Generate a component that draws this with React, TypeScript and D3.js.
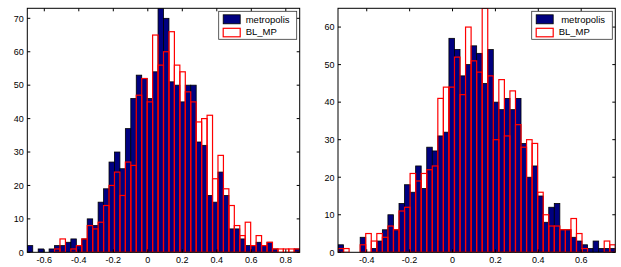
import React, { useEffect, useRef } from "react";
import * as d3 from "d3";

// counts per bin (50 equal bins spanning each panel's x range)
const leftMetropolis = [2, 0, 1, 0, 1, 2, 2, 3, 4, 2, 4, 10, 8, 15, 19, 27, 30, 25, 37, 46, 53, 52, 46, 54, 73, 70, 51, 50, 45, 50, 50, 33, 32, 17, 15, 24, 17, 7, 7, 4, 2, 2, 3, 2, 3, 1, 0, 0, 0, 1];
const leftBLMP = [0, 0, 0, 0, 0, 1, 4, 0, 1, 2, 4, 8, 7, 9, 14, 20, 24, 17, 27, 26, 47, 52, 45, 65, 56, 60, 66, 56, 54, 48, 45, 39, 40, 41, 22, 29, 19, 14, 8, 5, 9, 2, 5, 2, 3, 1, 1, 1, 1, 1];
const leftRange: [number, number] = [-0.6986, 0.8806];
const leftXTicks = [-0.6, -0.4, -0.2, 0, 0.2, 0.4, 0.6, 0.8];
const leftYTicks = [0, 10, 20, 30, 40, 50, 60, 70];
const leftYMax = 73;

const rightMetropolis = [2, 0, 0, 0, 4, 0, 1, 3, 6, 10, 6, 13, 18, 16, 23, 17, 28, 27, 31, 32, 57, 54, 47, 50, 55, 53, 45, 54, 40, 38, 41, 38, 41, 29, 20, 23, 15, 8, 12, 13, 6, 6, 4, 3, 2, 1, 3, 1, 1, 1];
const rightBLMP = [1, 1, 0, 0, 2, 5, 3, 5, 4, 7, 6, 11, 12, 21, 19, 21, 22, 23, 41, 44, 44, 52, 42, 60, 51, 48, 65, 47, 30, 46, 31, 43, 34, 28, 30, 29, 16, 10, 7, 7, 6, 6, 9, 5, 1, 0, 0, 0, 3, 2];
const rightRange: [number, number] = [-0.534, 0.759];
const rightXTicks = [-0.4, -0.2, 0, 0.2, 0.4, 0.6];
const rightYTicks = [0, 10, 20, 30, 40, 50, 60];
const rightYMax = 65;

const seriesNames = ["metropolis", "BL_MP"];

const FONT = "'Liberation Sans', Arial, Helvetica, sans-serif";
const NAVY = "#000080";

interface PanelProps {
  id: string;
  left: number;
  right: number;
  top: number;
  bottom: number;
  filled: number[];
  outlined: number[];
  range: [number, number];
  xTicks: number[];
  yTicks: number[];
  yMax: number;
  legendWidth: number;
  labelShift: number;
}

const drawPanel = (svg: d3.Selection<SVGSVGElement, unknown, null, undefined>, p: PanelProps) => {
  const x = d3.scaleLinear().domain(p.range).range([p.left, p.right]);
  const y = d3.scaleLinear().domain([0, p.yMax]).range([p.bottom, p.top]);
  const w = (p.range[1] - p.range[0]) / p.filled.length;
  const edge = (i: number) => p.range[0] + i * w;

  svg
    .append("clipPath")
    .attr("id", `clip-${p.id}`)
    .append("rect")
    .attr("x", p.left)
    .attr("y", p.top)
    .attr("width", p.right - p.left)
    .attr("height", p.bottom - p.top);

  const g = svg.append("g").attr("clip-path", `url(#clip-${p.id})`);

  const bars = (counts: number[], cls: string) =>
    g
      .selectAll(`.${cls}`)
      .data(counts.map((c, i) => ({ c, i })).filter((d) => d.c > 0))
      .enter()
      .append("rect")
      .attr("class", cls)
      .attr("x", (d) => x(edge(d.i)))
      .attr("y", (d) => y(d.c))
      .attr("width", (d) => x(edge(d.i + 1)) - x(edge(d.i)))
      .attr("height", (d) => y(0) - y(d.c));

  // filled histogram (metropolis)
  bars(p.filled, "fill-bar").attr("fill", NAVY).attr("stroke", "#000").attr("stroke-width", 0.8);

  // outlined histogram (BL_MP) drawn on top
  bars(p.outlined, "line-bar").attr("fill", "none").attr("stroke", "#ff0000").attr("stroke-width", 1.2);

  // axis box
  svg
    .append("rect")
    .attr("x", p.left)
    .attr("y", p.top)
    .attr("width", p.right - p.left)
    .attr("height", p.bottom - p.top)
    .attr("fill", "none")
    .attr("stroke", "#000")
    .attr("stroke-width", 1);

  const tl = 3;
  const ticks = svg.append("g").attr("stroke", "#000").attr("stroke-width", 1);
  p.xTicks.forEach((t) => {
    const xx = x(t);
    ticks.append("line").attr("x1", xx).attr("x2", xx).attr("y1", p.bottom).attr("y2", p.bottom - tl);
    ticks.append("line").attr("x1", xx).attr("x2", xx).attr("y1", p.top).attr("y2", p.top + tl);
    svg
      .append("text")
      .attr("x", xx)
      .attr("y", p.bottom + 11)
      .attr("text-anchor", "middle")
      .style("font-family", FONT)
      .style("font-size", "9px")
      .text(String(t));
  });
  p.yTicks.forEach((t) => {
    const yy = y(t);
    ticks.append("line").attr("x1", p.left).attr("x2", p.left + tl).attr("y1", yy).attr("y2", yy);
    ticks.append("line").attr("x1", p.right).attr("x2", p.right - tl).attr("y1", yy).attr("y2", yy);
    svg
      .append("text")
      .attr("x", p.left - 3.5)
      .attr("y", yy + 3.3)
      .attr("text-anchor", "end")
      .style("font-family", FONT)
      .style("font-size", "9px")
      .text(String(t));
  });

  // legend
  const lx = p.right - 3 - p.legendWidth;
  const ly = p.top + 3;
  const lg = svg.append("g");
  lg.append("rect")
    .attr("x", lx)
    .attr("y", ly)
    .attr("width", p.legendWidth)
    .attr("height", 28)
    .attr("fill", "#fff")
    .attr("stroke", "#333")
    .attr("stroke-width", 0.8);
  lg.append("rect")
    .attr("x", lx + 4.5)
    .attr("y", ly + 3.5)
    .attr("width", 17)
    .attr("height", 9)
    .attr("fill", NAVY)
    .attr("stroke", "#000")
    .attr("stroke-width", 0.8);
  lg.append("rect")
    .attr("x", lx + 4.5)
    .attr("y", ly + 17)
    .attr("width", 17)
    .attr("height", 8.5)
    .attr("fill", "none")
    .attr("stroke", "#ff0000")
    .attr("stroke-width", 1.2);
  seriesNames.forEach((name, i) => {
    lg.append("text")
      .attr("x", lx + 27 + (i === 0 ? p.labelShift : 0))
      .attr("y", ly + 11.5 + i * 12.5)
      .style("font-family", FONT)
      .style("font-size", "9.5px")
      .text(name);
  });
};

const App: React.FC = () => {
  const svgRef = useRef<SVGSVGElement>(null);

  useEffect(() => {
    if (!svgRef.current) return;
    const svg = d3.select(svgRef.current);
    svg.selectAll("*").remove();

    drawPanel(svg, {
      id: "left",
      left: 27.3,
      right: 299.7,
      top: 8.3,
      bottom: 252.3,
      filled: leftMetropolis,
      outlined: leftBLMP,
      range: leftRange,
      xTicks: leftXTicks,
      yTicks: leftYTicks,
      yMax: leftYMax,
      legendWidth: 78,
      labelShift: 0,
    });
    drawPanel(svg, {
      id: "right",
      left: 338,
      right: 615.3,
      top: 8.3,
      bottom: 252.3,
      filled: rightMetropolis,
      outlined: rightBLMP,
      range: rightRange,
      xTicks: rightXTicks,
      yTicks: rightYTicks,
      yMax: rightYMax,
      legendWidth: 80.6,
      labelShift: 2.5,
    });
  }, []);

  return (
    <div style={{ position: "fixed", left: 0, top: 0 }}>
      <svg ref={svgRef} width={621} height={267} style={{ display: "block", background: "#fff" }} />
    </div>
  );
};

export default App;
